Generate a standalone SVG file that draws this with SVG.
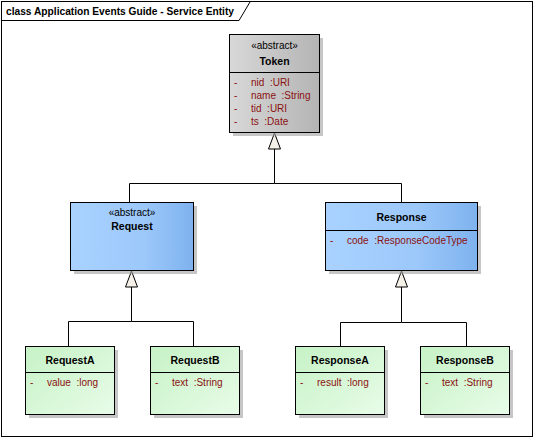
<svg xmlns="http://www.w3.org/2000/svg" width="535" height="440" viewBox="0 0 535 440">
<style>
text{font-family:"Liberation Sans",Arial,sans-serif;font-size:10px;fill:#000;white-space:pre}
.b{font-weight:bold;font-size:10.5px}
.t{font-weight:bold;font-size:11px}
.a{fill:#8B1010}
.box{stroke:#000;stroke-width:1}
.sh{fill:#A0A0A0;opacity:.6}
.ln{fill:none;stroke:#000;stroke-width:1}
.tri{fill:#F5F0E8;stroke:#000;stroke-width:1}
</style>
<defs>
<linearGradient id="gGray" x1="0" y1="0" x2="1" y2="0"><stop offset="0" stop-color="#D8D8D8"/><stop offset="1" stop-color="#B4B4B4"/></linearGradient>
<linearGradient id="gBlue" x1="0" y1="0" x2="1" y2="0"><stop offset="0" stop-color="#A9D2FF"/><stop offset="0.6" stop-color="#9CC8FA"/><stop offset="1" stop-color="#7EB2EE"/></linearGradient>
<linearGradient id="gGreen" x1="0" y1="0" x2="1" y2="1"><stop offset="0" stop-color="#C6F2C6"/><stop offset="1" stop-color="#E8FCE8"/></linearGradient>
</defs>
<rect x="0" y="0" width="535" height="440" fill="#fff"/>
<rect x="1.5" y="1.5" width="531" height="435" fill="none" stroke="#000"/>
<path d="M1.5,20.5 H239 L250,2" fill="none" stroke="#000"/>
<text class="t" x="6" y="15" textLength="228" lengthAdjust="spacingAndGlyphs">class Application Events Guide - Service Entity</text>

<g id="connectors">
<polyline class="ln" points="274.5,149 274.5,183.5 129.5,183.5 129.5,202"/>
<polyline class="ln" points="274.5,183.5 401.5,183.5 401.5,202"/>
<polygon class="tri" points="274.5,133 268.5,149 280.5,149"/>
<polyline class="ln" points="131.5,287 131.5,321.5 68.5,321.5 68.5,346"/>
<polyline class="ln" points="131.5,321.5 193.5,321.5 193.5,346"/>
<polygon class="tri" points="131.5,271 125.5,287 137.5,287"/>
<polyline class="ln" points="401.5,287 401.5,322.5 340.5,322.5 340.5,346"/>
<polyline class="ln" points="401.5,322.5 466.5,322.5 466.5,346"/>
<polygon class="tri" points="401.5,271 395.5,287 407.5,287"/>
</g>

<g id="Token">
<rect class="sh" x="233" y="38" width="90" height="98"/>
<rect class="box" x="229.5" y="34.5" width="90" height="98" fill="url(#gGray)"/>
<line class="ln" x1="229.5" y1="72.5" x2="319.5" y2="72.5"/>
<text x="274.5" y="49" text-anchor="middle">«abstract»</text>
<text class="b" x="274.5" y="65" text-anchor="middle">Token</text>
<text class="a" x="234" y="86">-</text><text class="a" x="251" y="86">nid  :URI</text>
<text class="a" x="234" y="99">-</text><text class="a" x="251" y="99">name  :String</text>
<text class="a" x="234" y="112">-</text><text class="a" x="251" y="112">tid  :URI</text>
<text class="a" x="234" y="125">-</text><text class="a" x="251" y="125">ts  :Date</text>
</g>

<g id="Request">
<rect class="sh" x="74" y="206" width="123" height="68"/>
<rect class="box" x="70.5" y="202.5" width="123" height="68" fill="url(#gBlue)"/>
<text x="132" y="216" text-anchor="middle">«abstract»</text>
<text class="b" x="132" y="230" text-anchor="middle">Request</text>
</g>

<g id="Response">
<rect class="sh" x="329" y="206" width="152" height="68"/>
<rect class="box" x="325.5" y="202.5" width="152" height="68" fill="url(#gBlue)"/>
<line class="ln" x1="325.5" y1="230.5" x2="477.5" y2="230.5"/>
<text class="b" x="401.5" y="221" text-anchor="middle">Response</text>
<text class="a" x="330" y="244">-</text><text class="a" x="347" y="244">code  :ResponseCodeType</text>
</g>

<g id="RequestA">
<rect class="sh" x="29" y="350" width="89" height="68"/>
<rect class="box" x="25.5" y="346.5" width="89" height="68" fill="url(#gGreen)"/>
<line class="ln" x1="25.5" y1="372.5" x2="114.5" y2="372.5"/>
<text class="b" x="70" y="364" text-anchor="middle">RequestA</text>
<text class="a" x="30" y="386">-</text><text class="a" x="47" y="386">value  :long</text>
</g>

<g id="RequestB">
<rect class="sh" x="154" y="350" width="89" height="68"/>
<rect class="box" x="150.5" y="346.5" width="89" height="68" fill="url(#gGreen)"/>
<line class="ln" x1="150.5" y1="372.5" x2="239.5" y2="372.5"/>
<text class="b" x="195" y="364" text-anchor="middle">RequestB</text>
<text class="a" x="155" y="386">-</text><text class="a" x="172" y="386">text  :String</text>
</g>

<g id="ResponseA">
<rect class="sh" x="299" y="350" width="89" height="68"/>
<rect class="box" x="295.5" y="346.5" width="89" height="68" fill="url(#gGreen)"/>
<line class="ln" x1="295.5" y1="372.5" x2="384.5" y2="372.5"/>
<text class="b" x="340" y="364" text-anchor="middle">ResponseA</text>
<text class="a" x="300" y="386">-</text><text class="a" x="317" y="386">result  :long</text>
</g>

<g id="ResponseB">
<rect class="sh" x="424" y="350" width="89" height="68"/>
<rect class="box" x="420.5" y="346.5" width="89" height="68" fill="url(#gGreen)"/>
<line class="ln" x1="420.5" y1="372.5" x2="509.5" y2="372.5"/>
<text class="b" x="465" y="364" text-anchor="middle">ResponseB</text>
<text class="a" x="425" y="386">-</text><text class="a" x="442" y="386">text  :String</text>
</g>
</svg>
